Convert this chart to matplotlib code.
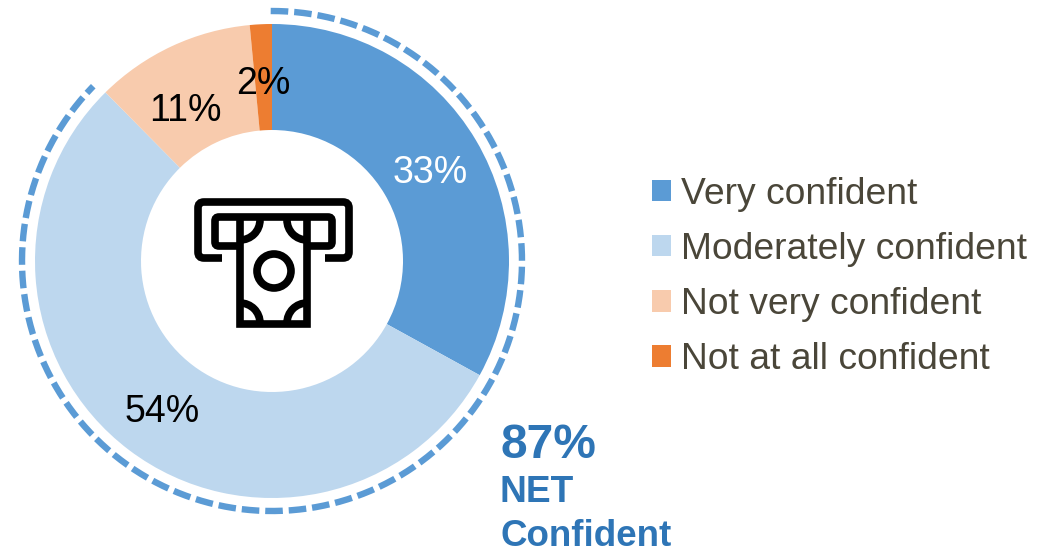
import numpy as np
import matplotlib
matplotlib.use("Agg")
import matplotlib.pyplot as plt
from matplotlib.patches import Circle, Arc, PathPatch
from matplotlib.path import Path

categories = ["Very confident", "Moderately confident", "Not very confident", "Not at all confident"]
values = [33.0, 54.6, 10.9, 1.5]
value_labels = ["33%", "54%", "11%", "2%"]
net_value = 87.6
net_label = "87%"
net_lines = ["NET", "Confident"]
colors = ["#5B9BD5", "#BDD7EE", "#F8CBAD", "#ED7D31"]
label_colors = ["white", "black", "black", "black"]
label_pos = [(430, 173), (162, 412), (185, 111), (263, 84)]

plt.rcParams["font.family"] = ["Liberation Sans", "DejaVu Sans"]
W, H = 1054, 550
fig = plt.figure(figsize=(W / 100, H / 100), dpi=100)
ax = fig.add_axes([0, 0, 1, 1])

def Y(p):
    return H - p

CX, CY, R, RI, RD = 272, 261, 237, 131, 250
wedges, _ = ax.pie(values, colors=colors, startangle=90, counterclock=False,
                   center=(CX, Y(CY)), radius=R, frame=True,
                   wedgeprops=dict(width=R - RI, linewidth=0))
ax.set_xlim(0, W)
ax.set_ylim(0, H)
ax.set_aspect("equal")
ax.axis("off")

for t, c, (x, y) in zip(value_labels, label_colors, label_pos):
    ax.text(x, Y(y), t, color=c, fontsize=27, ha="center", va="center")

# dashed NET arc, running clockwise from the top
th = np.radians(np.linspace(90.3, 90.3 - net_value * 3.6 + 0.7, 500))
ax.plot(CX + RD * np.cos(th), Y(CY) + RD * np.sin(th), color="#5B9BD5", lw=4.6,
        dashes=(2.75, 0.93), dash_capstyle="butt", solid_capstyle="butt")

# net call-out
BLUE = "#2E75B6"
ax.text(500, Y(458), net_label, color=BLUE, fontsize=34.5, fontweight="bold", ha="left", va="baseline")
ax.text(500, Y(502), net_lines[0], color=BLUE, fontsize=26.7, fontweight="bold", ha="left", va="baseline")
ax.text(500, Y(546), net_lines[1], color=BLUE, fontsize=26.5, fontweight="bold", ha="left", va="baseline")

# legend
ax.legend(wedges, categories, loc="center left", bbox_to_anchor=(652 / W, 1 - 277 / H),
          bbox_transform=fig.transFigure, frameon=False, fontsize=26.8, labelcolor="#4A4639",
          handlelength=0.51, handleheight=0.51, handletextpad=0.27,
          labelspacing=0.54, borderpad=0, borderaxespad=0)

# banknote-dispenser icon
LW = 5.5
def stroke(pts, radius=0):
    verts, codes = [], []
    P = [np.array(p, float) for p in pts]
    verts.append(P[0]); codes.append(Path.MOVETO)
    for a, b, c in zip(P[:-2], P[1:-1], P[2:]):
        if radius:
            u = (a - b) / np.linalg.norm(a - b)
            v = (c - b) / np.linalg.norm(c - b)
            verts += [b + u * radius, b, b + v * radius]
            codes += [Path.LINETO, Path.CURVE3, Path.CURVE3]
        else:
            verts.append(b); codes.append(Path.LINETO)
    verts.append(P[-1]); codes.append(Path.LINETO)
    verts = [(x, Y(y)) for x, y in verts]
    ax.add_patch(PathPatch(Path(verts, codes), fill=False, lw=LW, edgecolor="black",
                           capstyle="butt", joinstyle="miter"))

stroke([(222, 258), (198, 258), (198, 202), (349, 202), (349, 258), (325, 258)], radius=6)
stroke([(240, 246), (215, 246), (215, 217), (332, 217), (332, 246), (307, 246)], radius=4)
stroke([(240, 217), (240, 324), (307, 324), (307, 217)])
ax.add_patch(Circle((274, Y(271)), 17, fill=False, lw=LW, edgecolor="black"))
for (x, y, t1, t2) in [(240, 220, 270, 360), (307, 220, 180, 270),
                       (240, 323, 0, 90), (307, 323, 90, 180)]:
    ax.add_patch(Arc((x, Y(y)), 40, 40, theta1=t1, theta2=t2, lw=LW, edgecolor="black"))

fig.savefig("out.png", dpi=100)
